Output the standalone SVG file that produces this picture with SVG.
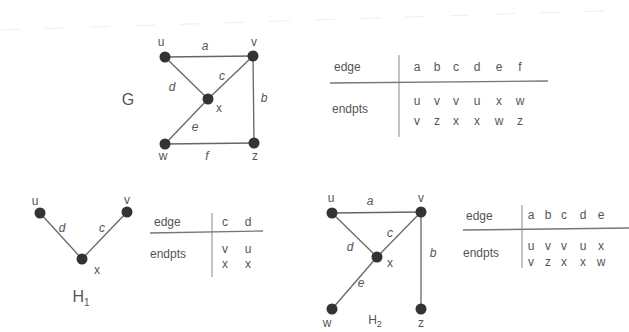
<svg xmlns="http://www.w3.org/2000/svg" width="629" height="332" viewBox="0 0 629 332">
<style>
text{font-family:"Liberation Sans",Arial,sans-serif;fill:#555;font-size:12px;}
.e{font-style:italic;}
.n{fill:#333;}
.l{stroke:#666;stroke-width:1.3;fill:none;}
.t{stroke:#888;stroke-width:1;fill:none;}
.th{stroke:#777;stroke-width:1.4;fill:none;}
.big{font-size:16px;}
.m{text-anchor:middle;}
</style>
<rect width="629" height="332" fill="#fff"/>
<path d="M0 30 L629 10" stroke="#eee" stroke-width="1" stroke-dasharray="20 25" fill="none"/>

<!-- Graph G -->
<g id="G-edges" class="l">
<line x1="165" y1="57" x2="253" y2="56"/>
<line x1="253" y1="56" x2="254" y2="143"/>
<line x1="253" y1="56" x2="208" y2="99"/>
<line x1="165" y1="57" x2="208" y2="99"/>
<line x1="208" y1="99" x2="165" y2="144"/>
<line x1="165" y1="144" x2="254" y2="143"/>
</g>
<g id="G-u"><circle class="n" cx="165" cy="57" r="5.5"/><text x="161" y="46" class="m">u</text></g>
<g id="G-v"><circle class="n" cx="253" cy="56" r="5.5"/><text x="254" y="46" class="m">v</text></g>
<g id="G-x"><circle class="n" cx="208" cy="99" r="5.5"/><text x="219" y="112" class="m">x</text></g>
<g id="G-w"><circle class="n" cx="165" cy="144" r="5.5"/><text x="163" y="160" class="m">w</text></g>
<g id="G-z"><circle class="n" cx="254" cy="143" r="5.5"/><text x="255" y="160" class="m">z</text></g>
<g id="G-labels">
<text x="205" y="50" class="m e">a</text>
<text x="264" y="102" class="m e">b</text>
<text x="222" y="80" class="m e">c</text>
<text x="172" y="91" class="m e">d</text>
<text x="195" y="131" class="m e">e</text>
<text x="207" y="160" class="m e">f</text>
<text x="128" y="105" class="m big">G</text>
</g>

<!-- Table G -->
<g id="table-G">
<line class="t" x1="399" y1="55" x2="399" y2="137"/>
<line class="th" x1="330" y1="83" x2="548" y2="81"/>
<text x="334" y="71">edge</text>
<text x="332" y="113">endpts</text>
<text x="417" y="71" class="m">a</text><text x="437" y="71" class="m">b</text><text x="456" y="71" class="m">c</text><text x="477" y="71" class="m">d</text><text x="499" y="71" class="m">e</text><text x="520" y="71" class="m">f</text>
<text x="417" y="105" class="m">u</text><text x="437" y="105" class="m">v</text><text x="456" y="105" class="m">v</text><text x="477" y="105" class="m">u</text><text x="499" y="105" class="m">x</text><text x="520" y="105" class="m">w</text>
<text x="417" y="125" class="m">v</text><text x="437" y="125" class="m">z</text><text x="456" y="125" class="m">x</text><text x="477" y="125" class="m">x</text><text x="499" y="125" class="m">w</text><text x="520" y="125" class="m">z</text>
</g>

<!-- Graph H1 -->
<g id="H1-edges" class="l">
<line x1="40" y1="213" x2="82" y2="259"/>
<line x1="127" y1="212" x2="82" y2="259"/>
</g>
<g id="H1-u"><circle class="n" cx="40" cy="213" r="5.5"/><text x="35" y="205" class="m">u</text></g>
<g id="H1-v"><circle class="n" cx="127" cy="212" r="5.5"/><text x="127" y="204" class="m">v</text></g>
<g id="H1-x"><circle class="n" cx="82" cy="259" r="5.5"/><text x="97" y="274" class="m">x</text></g>
<g id="H1-labels">
<text x="62" y="232" class="m e">d</text>
<text x="102" y="232" class="m e">c</text>
<text x="81" y="302" class="m big">H<tspan font-size="10" dy="4">1</tspan></text>
</g>
<g id="table-H1">
<line class="t" x1="212" y1="213" x2="212" y2="277"/>
<line class="th" x1="150" y1="233" x2="263" y2="231"/>
<text x="154" y="226">edge</text>
<text x="150" y="258">endpts</text>
<text x="225" y="226" class="m">c</text><text x="248" y="226" class="m">d</text>
<text x="225" y="253" class="m">v</text><text x="248" y="253" class="m">u</text>
<text x="225" y="268" class="m">x</text><text x="248" y="268" class="m">x</text>
</g>

<!-- Graph H2 -->
<g id="H2-edges" class="l">
<line x1="332" y1="213" x2="421" y2="212"/>
<line x1="421" y1="212" x2="421" y2="309"/>
<line x1="421" y1="212" x2="377" y2="257"/>
<line x1="332" y1="213" x2="377" y2="257"/>
<line x1="377" y1="257" x2="332" y2="309"/>
</g>
<g id="H2-u"><circle class="n" cx="332" cy="213" r="5.5"/><text x="331" y="202" class="m">u</text></g>
<g id="H2-v"><circle class="n" cx="421" cy="212" r="5.5"/><text x="421" y="202" class="m">v</text></g>
<g id="H2-x"><circle class="n" cx="377" cy="257" r="5.5"/><text x="390" y="267" class="m">x</text></g>
<g id="H2-w"><circle class="n" cx="332" cy="309" r="5.5"/><text x="327" y="327" class="m">w</text></g>
<g id="H2-z"><circle class="n" cx="421" cy="309" r="5.5"/><text x="421" y="327" class="m">z</text></g>
<g id="H2-labels">
<text x="370" y="205" class="m e">a</text>
<text x="433" y="257" class="m e">b</text>
<text x="390" y="237" class="m e">c</text>
<text x="350" y="251" class="m e">d</text>
<text x="361" y="287" class="m e">e</text>
<text x="375" y="324" class="m" font-size="15">H<tspan font-size="9" dy="3">2</tspan></text>
</g>
<g id="table-H2">
<line class="t" x1="522" y1="205" x2="522" y2="268"/>
<line class="th" x1="463" y1="230" x2="629" y2="228"/>
<text x="466" y="220">edge</text>
<text x="463" y="257">endpts</text>
<text x="531" y="219" class="m">a</text><text x="548" y="219" class="m">b</text><text x="564" y="219" class="m">c</text><text x="583" y="219" class="m">d</text><text x="601" y="219" class="m">e</text>
<text x="531" y="250" class="m">u</text><text x="548" y="250" class="m">v</text><text x="564" y="250" class="m">v</text><text x="583" y="250" class="m">u</text><text x="601" y="250" class="m">x</text>
<text x="531" y="266" class="m">v</text><text x="548" y="266" class="m">z</text><text x="564" y="266" class="m">x</text><text x="583" y="266" class="m">x</text><text x="601" y="266" class="m">w</text>
</g>
</svg>
